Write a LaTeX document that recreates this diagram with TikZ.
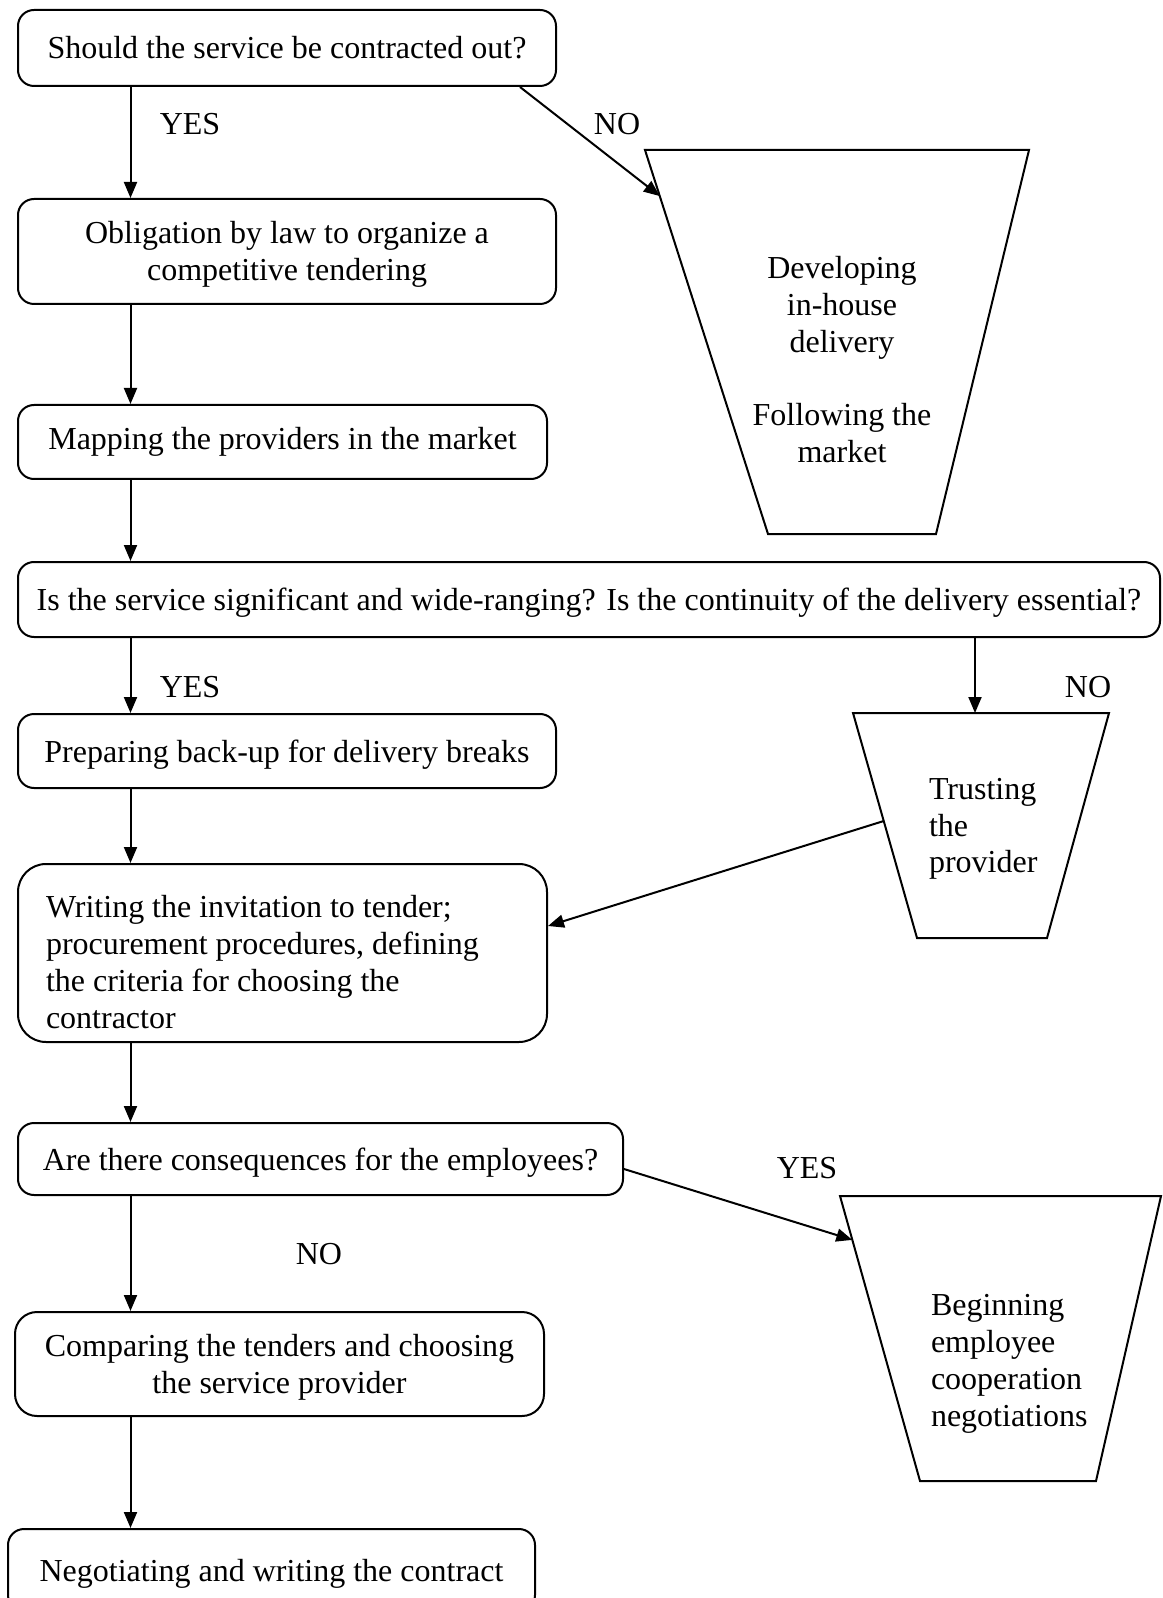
\documentclass[tikz,border=0pt]{standalone}
\usepackage{fontspec}
\setmainfont{Liberation Serif}
\usetikzlibrary{arrows.meta,calc}
\begin{document}
\begin{tikzpicture}[x=0.5pt,y=-0.5pt,
  font=\fontsize{16}{18.4}\selectfont,
  every path/.style={line width=1pt},
  box/.style={draw,rounded corners=8pt,inner sep=0pt,align=center},
  nodepth/.style={text depth=0pt},
  lbl/.style={inner sep=0pt},
  txt/.style={inner sep=0pt},
  trap/.style={draw,line width=1pt},
  arr/.style={-{Triangle[length=8pt,width=6.5pt]}}]
\useasboundingbox (0,0) rectangle (1162,1598);
% boxes
\node[box,minimum width=269pt,minimum height=38pt] (b1) at (287,48) {Should the service be contracted out?};
\node[box,minimum width=269pt,minimum height=52.5pt] (b2) at (287,251.5) {};
\node[txt,align=center] (b2t) at (287,254) {Obligation by law to organize a\\competitive tendering};
\node[box,minimum width=264.5pt,minimum height=37pt] (b3) at (282.5,442) {Mapping the providers in the market};
\node[box,nodepth,minimum width=571pt,minimum height=37.5pt] (b4) at (589,599.5) {Is the service significant and wide-ranging? Is the continuity of the delivery essential?};
\node[box,nodepth,minimum width=269pt,minimum height=37pt] (b5) at (287,751) {Preparing back-up for delivery breaks};
\node[box,rounded corners=14pt,minimum width=264.5pt,minimum height=89pt] (b6) at (282.5,953) {};
\node[txt,align=flush left,anchor=west] (b6t) at (45,962) {Writing the invitation to tender;\\procurement procedures, defining\\the criteria for choosing the\\contractor};
\node[box,nodepth,minimum width=302.5pt,minimum height=36pt] (b7) at (320.5,1159) {Are there consequences for the employees?};
\node[box,rounded corners=11pt,minimum width=264.5pt,minimum height=52pt] (b8) at (279.5,1364) {};
\node[txt,align=center] (b8t) at (279.5,1367) {Comparing the tenders and choosing\\the service provider};
\node[box,nodepth,minimum width=263.5pt,minimum height=41pt] (b9) at (271.5,1570) {Negotiating and writing the contract};
% trapezoids
\coordinate (t1a) at (645,150); \coordinate (t1b) at (1029,150);
\coordinate (t1c) at (936,534); \coordinate (t1d) at (768,534);
\coordinate (t2a) at (853,713); \coordinate (t2b) at (1109,713);
\coordinate (t2c) at (1047,938); \coordinate (t2d) at (917,938);
\coordinate (t3a) at (840,1196); \coordinate (t3b) at (1161,1196);
\coordinate (t3c) at (1096,1481); \coordinate (t3d) at (920,1481);
\draw[trap] (t1a) -- (t1b) -- (t1c) -- (t1d) -- cycle;
\draw[trap] (t2a) -- (t2b) -- (t2c) -- (t2d) -- cycle;
\draw[trap] (t3a) -- (t3b) -- (t3c) -- (t3d) -- cycle;
\node[txt,align=center] (tx1) at (842,359.5) {Developing\\in-house\\delivery\\[18.4pt]Following the\\market};
\node[txt,align=flush left,anchor=west] (tx2) at (928,829) {Trusting\\the\\provider};
\node[txt,align=flush left,anchor=west] (tx3) at (930,1364) {Beginning\\employee\\cooperation\\negotiations};
% helper coordinates
\coordinate (ax) at (130.5,0);
\coordinate (nx) at (520,0);
\coordinate (tx) at (975,0);
\coordinate (n1e) at ($(t1a)!0.12!(t1d)$);
\coordinate (t2s) at ($(t2a)!0.48!(t2d)$);
\coordinate (b6e) at ($(b6.east)+(0,-27)$);
\coordinate (b7s) at ($(b7.east)+(0,10)$);
\coordinate (t3e) at ($(t3a)!0.154!(t3d)$);
% connectors
\draw[arr] (b1.south -| ax) -- (b2.north -| ax);
\draw[arr] (b1.south -| nx) -- (n1e);
\draw[arr] (b2.south -| ax) -- (b3.north -| ax);
\draw[arr] (b3.south -| ax) -- (b4.north -| ax);
\draw[arr] (b4.south -| ax) -- (b5.north -| ax);
\draw[arr] (b4.south -| tx) -- (t2a -| tx);
\draw[arr] (b5.south -| ax) -- (b6.north -| ax);
\draw[arr] (t2s) -- (b6e);
\draw[arr] (b6.south -| ax) -- (b7.north -| ax);
\draw[arr] (b7s) -- (t3e);
\draw[arr] (b7.south -| ax) -- (b8.north -| ax);
\draw[arr] (b8.south -| ax) -- (b9.north -| ax);
% labels
\node[lbl] (y1) at (190,124) {YES};
\node[lbl] (n1) at (617,124) {NO};
\node[lbl] (y2) at (190,687) {YES};
\node[lbl] (n2) at (1088,687) {NO};
\node[lbl] (y3) at (807,1168) {YES};
\node[lbl] (n3) at (319,1254) {NO};
\end{tikzpicture}
\end{document}
